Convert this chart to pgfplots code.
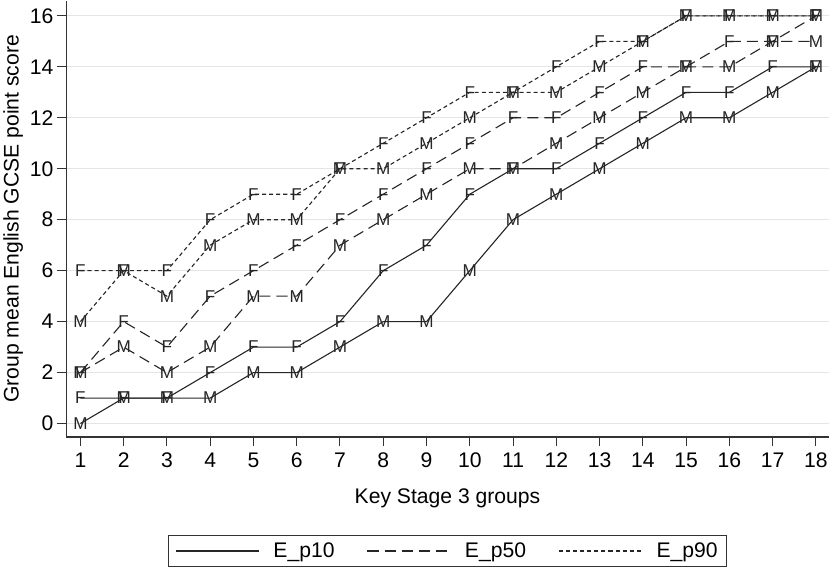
\documentclass[border=0pt]{standalone}
\usepackage{pgfplots}
\pgfplotsset{compat=1.18}
\usepackage{fontspec}
\setmainfont{Liberation Sans}
\pgfplotstableread{
x p10F p10M p50F p50M p90F p90M
1  1  0  2  2  6  4
2  1  1  4  3  6  6
3  1  1  3  2  6  5
4  2  1  5  3  8  7
5  3  2  6  5  9  8
6  3  2  7  5  9  8
7  4  3  8  7  10 10
8  6  4  9  8  11 10
9  7  4  10 9  12 11
10 9  6  11 10 13 12
11 10 8  12 10 13 13
12 10 9  12 11 14 13
13 11 10 13 12 15 14
14 12 11 14 13 15 15
15 13 12 14 14 16 16
16 13 12 15 14 16 16
17 14 13 15 15 16 16
18 14 14 16 15 16 16
}\data
\tikzset{
 p10/.style={black!85, line width=1.1bp, solid},
 p50/.style={black!85, line width=1.1bp, dash pattern=on 11bp off 6bp},
 p90/.style={black!85, line width=1.1bp, dash pattern=on 4bp off 3bp},
}
\begin{document}
\begin{tikzpicture}
\begin{axis}[
 scale only axis, width=755bp, height=432bp,
 xmin=0.67, xmax=18.3, ymin=-0.53, ymax=16.6,
 axis x line*=bottom, axis y line*=left,
 axis line style={black!80, line width=1.2bp},
 xtick={1,...,18}, ytick={0,2,...,16},
 tick align=outside, major tick length=9bp,
 tick style={black!80, line width=1bp},
 ymajorgrids, grid style={black!10, line width=1.2bp},
 /pgf/number format/assume math mode=true,
 ticklabel style={font=\fontsize{21}{25}\selectfont},
 xticklabel style={yshift=-3bp},
 label style={font=\fontsize{21}{25}\selectfont},
 xlabel style={yshift=-14bp},
 xlabel={Key Stage 3 groups},
 ylabel={Group mean English GCSE point score},
 mark options={solid},
 text mark style={font=\fontsize{17}{19}\selectfont, inner sep=0pt, anchor=center, black!85},
 text mark as node=true,
 legend columns=3,
 legend image code/.code={\draw[#1] (0bp,0bp) -- (82bp,0bp);},
 legend style={at={(0.5,-0.225)}, anchor=north, draw=black!80, line width=1bp,
   font=\fontsize{21}{25}\selectfont, inner xsep=7bp, inner ysep=5bp,
   /tikz/every odd column/.append style={column sep=12bp},
   /tikz/every even column/.append style={column sep=30bp}},
]
\addplot[p10, forget plot, mark=text, text mark={F}] table[x=x,y=p10F]{\data};
\addplot[p10, forget plot, mark=text, text mark={M}] table[x=x,y=p10M]{\data};
\addplot[p50, forget plot, mark=text, text mark={F}] table[x=x,y=p50F]{\data};
\addplot[p50, forget plot, mark=text, text mark={M}] table[x=x,y=p50M]{\data};
\addplot[p90, forget plot, mark=text, text mark={F}] table[x=x,y=p90F]{\data};
\addplot[p90, forget plot, mark=text, text mark={M}] table[x=x,y=p90M]{\data};
\addlegendimage{p10}\addlegendentry{E\_p10}
\addlegendimage{p50}\addlegendentry{E\_p50}
\addlegendimage{p90}\addlegendentry{E\_p90}
\end{axis}
\end{tikzpicture}
\end{document}
